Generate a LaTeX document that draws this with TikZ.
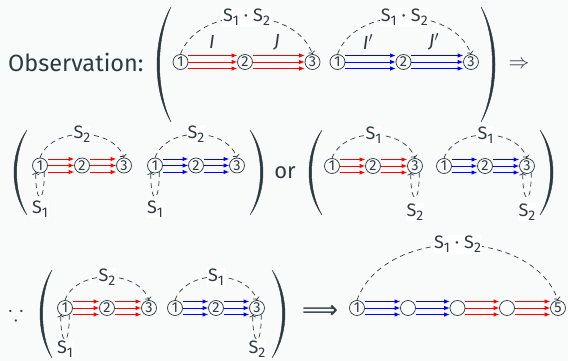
\documentclass[tikz,border=0pt]{standalone}
\usepackage{fontspec}
\setmainfont{Fira Sans}
\newfontfamily\djv{DejaVu Sans}
\usepackage{amssymb}
\usepackage{graphicx}
\usetikzlibrary{arrows.meta}
\definecolor{ink}{RGB}{45,58,64}
\definecolor{bg}{RGB}{249,250,250}
% tip x, outer x, top y, bottom y, thickness offset (+ for "(", - for ")")
\newcommand\BigPar[5]{%
  \pgfmathsetmacro\pcA{(#2-0.25*#1)/0.75}%
  \pgfmathsetmacro\pcB{\pcA+#5}%
  \pgfmathsetmacro\pyA{#3+0.28*(#4-#3)}%
  \pgfmathsetmacro\pyB{#4-0.28*(#4-#3)}%
  \filldraw[ink,line width=0.4pt] (#1,#3) .. controls (\pcA,\pyA) and (\pcA,\pyB) .. (#1,#4)
     .. controls (\pcB,\pyB) and (\pcB,\pyA) .. cycle;}
\newcommand\Tri[3]{\foreach \s in {-6.5,0,6.5}{\draw[tri,#3] ([yshift=\s pt]#1.east) -- ([yshift=\s pt]#2.west);}}
\newcommand\Loop[1]{\draw[dsh] (#1.-58) .. controls +(0.5,33) and +(-0.5,33) .. (#1.-122);}
\newcommand\Sx[1]{S\raisebox{-4pt}{\fontsize{14}{14}\selectfont #1}}
\newcommand\SoneStwo{\Sx{1}\hspace{5pt}·\hspace{5pt}\Sx{2}}
\begin{document}
\begin{tikzpicture}[x=1pt,y=-1pt,
  nd/.style={circle,draw=ink,line width=0.7pt,minimum size=15pt,inner sep=0pt,font=\fontsize{14.5}{14.5}\selectfont,text=ink},
  lab/.style={font=\fontsize{18}{18}\selectfont,text=ink,fill=white,inner sep=1pt},
  lab2/.style={font=\fontsize{19}{19}\selectfont,text=ink,inner sep=1pt},
  dsh/.style={draw=ink,line width=0.7pt,dash pattern=on 5pt off 4pt,-{To[length=2.8pt,width=7pt]}},
  tri/.style={line width=0.9pt,-{Latex[length=5.5pt,width=4.5pt]}},
  big/.style={font=\fontsize{22}{26}\selectfont,text=ink,inner sep=0pt}]
\useasboundingbox (0,0) rectangle (568,361);
\fill[bg] (0,0) rectangle (568,361);
% ---------- row 1
\node[big,font=\fontsize{23.5}{26}\selectfont,anchor=base west] (obs) at (8,72) {Observation:};
\BigPar{171}{157}{7}{122}{3.4}
\BigPar{481}{495}{7}{122}{-3.4}
\node[nd] (a1) at (180.5,62) {1};
\node[nd] (a2) at (245,62) {2};
\node[nd] (a3) at (312.5,62) {3};
\node[nd] (b1) at (337.5,62) {1};
\node[nd] (b2) at (403.5,62) {2};
\node[nd] (b3) at (471,62) {3};
\Tri{a1}{a2}{red}\Tri{a2}{a3}{red}\Tri{b1}{b2}{blue}\Tri{b2}{b3}{blue}
\draw[dsh] (a1.north) .. controls +(17.8,-49) and +(-17.8,-49) .. (a3.north) node[lab,pos=0.5] (la) {\SoneStwo};
\draw[dsh] (b1.north) .. controls +(17.8,-49) and +(-17.8,-49) .. (b3.north) node[lab,pos=0.5] (lb) {\SoneStwo};
\node[lab2] (lI) at (212,42) {\textit{I}};
\node[lab2] (lJ) at (277,42) {\textit{J}};
\node[lab2] (lIp) at (368,42) {\textit{I}$'$};
\node[lab2] (lJp) at (434,42) {\textit{J}$'$};
\node[big] (imp) at (519,65) {$\Rightarrow$};
% ---------- row 2 left
\BigPar{27}{14}{130}{215}{3.4}
\BigPar{250}{263}{130}{215}{-3.4}
\node[nd] (c1) at (40,165.5) {1};
\node[nd] (c2) at (82,165.5) {2};
\node[nd] (c3) at (124,165.5) {3};
\node[nd] (d1) at (155,165.5) {1};
\node[nd] (d2) at (196,165.5) {2};
\node[nd] (d3) at (237,165.5) {3};
\Tri{c1}{c2}{red}\Tri{c2}{c3}{red}\Tri{d1}{d2}{blue}\Tri{d2}{d3}{blue}
\draw[dsh] (c1.north) .. controls +(11.3,-31) and +(-11.3,-31) .. (c3.north) node[lab,pos=0.5] (lc) {\Sx{2}};
\draw[dsh] (d1.north) .. controls +(11.3,-31) and +(-11.3,-31) .. (d3.north) node[lab,pos=0.5] (ld) {\Sx{2}};
\Loop{c1}\Loop{d1}
\node[lab] (lc1) at (40,209) {\Sx{1}};
\node[lab] (ld1) at (155,209) {\Sx{1}};
\node[big,anchor=base] (or) at (285,178) {or};
% ---------- row 2 right
\BigPar{322}{309}{130}{215}{3.4}
\BigPar{540}{553}{130}{215}{-3.4}
\node[nd] (e1) at (332,166) {1};
\node[nd] (e2) at (373,166) {2};
\node[nd] (e3) at (415,166) {3};
\node[nd] (f1) at (444,166) {1};
\node[nd] (f2) at (485,166) {2};
\node[nd] (f3) at (527,166) {3};
\Tri{e1}{e2}{red}\Tri{e2}{e3}{red}\Tri{f1}{f2}{blue}\Tri{f2}{f3}{blue}
\draw[dsh] (e1.north) .. controls +(11.3,-31) and +(-11.3,-31) .. (e3.north) node[lab,pos=0.5] (le) {\Sx{1}};
\draw[dsh] (f1.north) .. controls +(11.3,-31) and +(-11.3,-31) .. (f3.north) node[lab,pos=0.5] (lf) {\Sx{1}};
\Loop{e3}\Loop{f3}
\node[lab] (le3) at (415,212) {\Sx{2}};
\node[lab] (lf3) at (527,212) {\Sx{2}};
% ---------- row 3
\node[big] (bec) at (16,313) {$\because$};
\BigPar{52}{40}{270}{358}{3.4}
\BigPar{272}{285}{270}{358}{-3.4}
\node[nd] (g1) at (65,308) {1};
\node[nd] (g2) at (107,308) {2};
\node[nd] (g3) at (149,308) {3};
\node[nd] (h1) at (175,308) {1};
\node[nd] (h2) at (216,308) {2};
\node[nd] (h3) at (257,308) {3};
\Tri{g1}{g2}{red}\Tri{g2}{g3}{red}\Tri{h1}{h2}{blue}\Tri{h2}{h3}{blue}
\draw[dsh] (g1.north) .. controls +(11.3,-31) and +(-11.3,-31) .. (g3.north) node[lab,pos=0.5] (lg) {\Sx{2}};
\draw[dsh] (h1.north) .. controls +(11.3,-31) and +(-11.3,-31) .. (h3.north) node[lab,pos=0.5] (lh) {\Sx{1}};
\Loop{g1}\Loop{h3}
\node[lab] (lg1) at (65,349) {\Sx{1}};
\node[lab] (lh3) at (257,349) {\Sx{2}};
\node[text=ink,inner sep=0pt] (limp) at (320,312) {\resizebox{36pt}{!}{\djv ⟹}};
\node[nd] (k1) at (357,308) {1};
\node[nd] (k2) at (408,308) {};
\node[nd] (k3) at (457.5,308) {};
\node[nd] (k4) at (507,308) {};
\node[nd] (k5) at (558,308) {5};
\Tri{k1}{k2}{blue}\Tri{k2}{k3}{blue}\Tri{k3}{k4}{red}\Tri{k4}{k5}{red}
\draw[dsh] (k1.north) .. controls +(26.9,-74) and +(-26.9,-74) .. (k5.north) node[lab,pos=0.5] (lk) {\SoneStwo};
\end{tikzpicture}
\end{document}
